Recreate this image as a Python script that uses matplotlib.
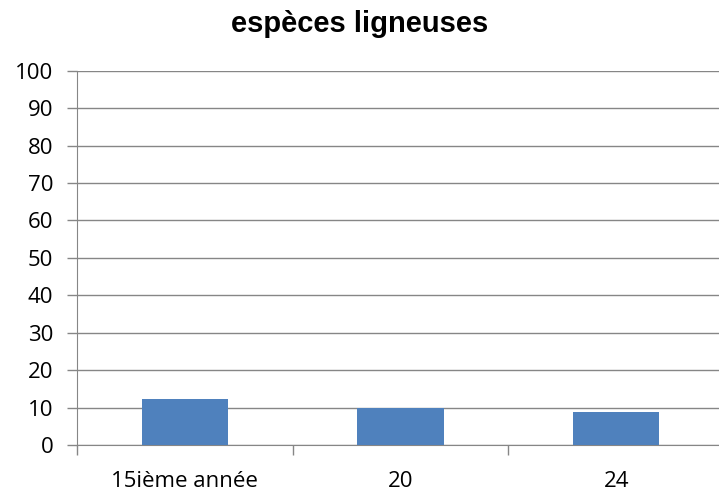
import matplotlib.pyplot as plt

# Données
categories = ['15ième année', '20', '24']
valeurs = [12.2, 9.8, 8.9]
graduations_y = list(range(0, 101, 10))

GRIS = '#868686'
BLEU = '#4F81BD'

fig = plt.figure(figsize=(7.19, 4.95), dpi=100)
ax = fig.add_axes([0.107, 0.101, 0.9, 0.756])

positions = list(range(len(categories)))
ax.bar(positions, valeurs, width=0.4, color=BLEU, zorder=3)

ax.set_xlim(-0.5, len(categories) - 0.5)
ax.set_ylim(0, 100)
ax.set_yticks(graduations_y)
ax.yaxis.grid(True, color=GRIS, linewidth=1, zorder=0)

# Ticks de l'axe x entre les catégories, étiquettes au centre
ax.set_xticks([p - 0.5 for p in positions] + [len(categories) - 0.5])
ax.set_xticklabels([])
ax.set_xticks(positions, minor=True)
ax.set_xticklabels(categories, minor=True)
ax.tick_params(axis='x', which='major', length=7, color=GRIS, width=1)
ax.tick_params(axis='x', which='minor', length=0, pad=19)
ax.tick_params(axis='y', length=7, color=GRIS, width=1, pad=10)

for lbl in ax.get_xticklabels(minor=True) + ax.get_yticklabels():
    lbl.set_fontfamily('Open Sans')
    lbl.set_fontsize(16)
    lbl.set_color('black')

for cote in ['top', 'right']:
    ax.spines[cote].set_visible(False)
ax.spines['left'].set_color(GRIS)
ax.spines['bottom'].set_color(GRIS)

fig.text(0.5, 0.951, 'espèces ligneuses', ha='center', va='center',
         fontsize=21, fontweight='bold', fontfamily='Liberation Sans')

plt.savefig('out.png', dpi=100)
